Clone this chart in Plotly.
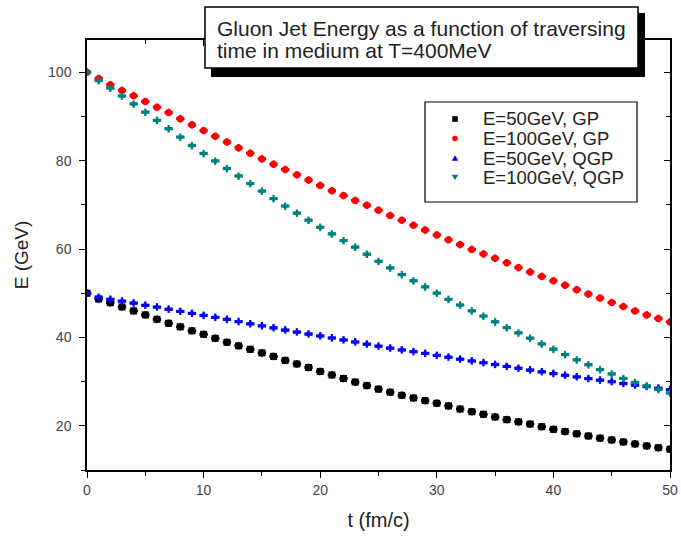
import plotly.graph_objects as go

t = list(range(51))

gp_50 = [50.0, 48.7, 47.85, 46.9, 46.0, 45.1, 44.1, 43.2, 42.4, 41.5, 40.7, 39.8, 38.9, 38.1, 37.3,
         36.5, 35.7, 34.8, 34.0, 33.2, 32.3, 31.5, 30.7, 29.9, 29.1, 28.3, 27.6, 26.9, 26.3, 25.7,
         25.1, 24.5, 23.8, 23.2, 22.6, 22.0, 21.4, 20.9, 20.4, 19.8, 19.2, 18.7, 18.2, 17.7, 17.2,
         16.8, 16.35, 15.9, 15.45, 15.05, 14.7]
gp_100 = [100.0, 98.6, 97.2, 95.9, 94.7, 93.4, 92.1, 90.9, 89.5, 88.1, 86.8, 85.5, 84.2, 82.9, 81.7,
          80.4, 79.2, 78.0, 76.8, 75.6, 74.4, 73.2, 72.1, 71.0, 69.9, 68.8, 67.6, 66.5, 65.4, 64.3,
          63.2, 62.1, 61.0, 59.9, 58.9, 57.9, 56.9, 55.8, 54.8, 53.8, 52.8, 51.8, 50.8, 49.8, 48.9,
          47.9, 47.0, 46.0, 45.1, 44.3, 43.5]
qgp_50 = [50.0, 49.1, 48.65, 48.25, 47.8, 47.3, 46.9, 46.4, 45.9, 45.45, 45.0, 44.55, 44.1, 43.6, 43.1,
          42.65, 42.2, 41.7, 41.25, 40.8, 40.35, 39.9, 39.45, 39.0, 38.5, 38.05, 37.6, 37.2, 36.8, 36.4,
          35.95, 35.55, 35.1, 34.7, 34.3, 33.9, 33.45, 33.05, 32.65, 32.25, 31.85, 31.45, 31.1, 30.7, 30.35,
          30.0, 29.6, 29.25, 28.9, 28.55, 28.2]
qgp_100 = [100.0, 98.1, 96.4, 94.6, 92.8, 90.95, 89.1, 87.2, 85.3, 83.4, 81.6, 79.9, 78.2, 76.5, 74.8,
           73.1, 71.4, 69.7, 68.1, 66.5, 64.9, 63.4, 61.9, 60.4, 58.8, 57.2, 55.7, 54.2, 52.8, 51.4,
           50.0, 48.6, 47.3, 46.0, 44.8, 43.5, 42.2, 41.0, 39.8, 38.5, 37.3, 36.1, 34.9, 33.8, 32.7,
           31.7, 30.7, 29.8, 29.0, 28.2, 27.4]

series_names = ["E=50GeV, GP", "E=100GeV, GP", "E=50GeV, QGP", "E=100GeV, QGP"]
series_values = [gp_50, gp_100, qgp_50, qgp_100]
colors = ["#000000", "#ff0000", "#0000ff", "#008080"]
symbols = ["square", "circle", "triangle-up", "triangle-down"]

x_ticks = [0, 10, 20, 30, 40, 50]
y_ticks = [20, 40, 60, 80, 100]
title_lines = ["Gluon Jet Energy as a function of traversing", "time in medium at T=400MeV"]

fig = go.Figure()
for name, vals, c, s in zip(series_names, series_values, colors, symbols):
    fig.add_trace(go.Scatter(
        x=t, y=vals, mode="markers", name=name, showlegend=False,
        marker=dict(symbol=s, size=7, color=c, line=dict(width=0)),
        error_y=dict(type="constant", value=0.85, color=c, thickness=2.2, width=0),
        error_x=dict(type="constant", value=0.36, color=c, thickness=3, width=0),
    ))

# dummy trace for mirrored (inside-tick) axes
fig.add_trace(go.Scatter(x=[], y=[], xaxis="x2", yaxis="y2", showlegend=False, hoverinfo="skip"))

L, R, T, B = 87, 11, 40, 69
W, H = 681, 539
pw, ph = W - L - R, H - T - B

def px(x):
    return (x - L) / pw

def py(y):
    return (H - B - y) / ph

fontfam = "Liberation Sans, Arial, sans-serif"
axis_common = dict(showline=True, linecolor="black", linewidth=1.5, showgrid=False, zeroline=False,
                   tickcolor="black", tickwidth=1.2, automargin=False)

fig.update_layout(
    width=W, height=H,
    margin=dict(l=L, r=R, t=T, b=B, autoexpand=False),
    paper_bgcolor="white", plot_bgcolor="white",
    font=dict(family=fontfam, color="#333333"),
    showlegend=False,
    xaxis=dict(range=[0, 50], tickvals=x_ticks, ticks="outside", ticklen=6,
               minor=dict(dtick=5, ticks="outside", ticklen=4, tickcolor="black"),
               tickfont=dict(size=14, color="#444444"),
               title=dict(text="t (fm/c)", font=dict(size=20, color="#222222"), standoff=16),
               **axis_common),
    yaxis=dict(range=[10, 107.3], tickvals=y_ticks, ticks="outside", ticklen=6,
               minor=dict(dtick=10, tick0=0, ticks="outside", ticklen=4, tickcolor="black"),
               tickfont=dict(size=14, color="#444444"), ticklabelstandoff=5,
               title=dict(text="E (GeV)", font=dict(size=19, color="#222222"), standoff=14),
               **axis_common),
    xaxis2=dict(overlaying="x", side="top", range=[0, 50], tickvals=x_ticks, ticks="inside", ticklen=6,
                minor=dict(dtick=5, ticks="inside", ticklen=4, tickcolor="black"),
                showticklabels=False, anchor="y2", **axis_common),
    yaxis2=dict(overlaying="y", side="right", range=[10, 107.3], tickvals=y_ticks, ticks="inside", ticklen=6,
                minor=dict(dtick=10, tick0=0, ticks="inside", ticklen=4, tickcolor="black"),
                showticklabels=False, anchor="x2", **axis_common),
)

# title box with drop shadow
fig.add_shape(type="rect", xref="paper", yref="paper",
              x0=px(211), x1=px(645), y0=py(77), y1=py(13),
              fillcolor="black", line=dict(width=0))
fig.add_shape(type="rect", xref="paper", yref="paper",
              x0=px(205), x1=px(638), y0=py(68), y1=py(7),
              fillcolor="white", line=dict(color="black", width=1.5))
for i, line in enumerate(title_lines):
    fig.add_annotation(text=line, xref="paper", yref="paper", x=px(215), y=py(28 + 22 * i),
                       xanchor="left", yanchor="middle", showarrow=False,
                       font=dict(size=21, color="#222222", family=fontfam))

# legend box (drawn as decorations, entries follow the series lists)
fig.add_shape(type="rect", xref="paper", yref="paper",
              x0=px(425), x1=px(637), y0=py(202), y1=py(102),
              fillcolor="white", line=dict(color="black", width=1.2))
sym_x, text_x, row0, row_gap, r = 455, 481, 119, 19.5, 2.8
for i, (name, c, s) in enumerate(zip(series_names, colors, symbols)):
    cy = row0 + row_gap * i
    if s == "square":
        fig.add_shape(type="rect", xref="paper", yref="paper",
                      x0=px(sym_x - r), x1=px(sym_x + r), y0=py(cy + r), y1=py(cy - r),
                      fillcolor=c, line=dict(width=0))
    elif s == "circle":
        fig.add_shape(type="circle", xref="paper", yref="paper",
                      x0=px(sym_x - r), x1=px(sym_x + r), y0=py(cy + r), y1=py(cy - r),
                      fillcolor=c, line=dict(width=0))
    else:
        d = -1 if s == "triangle-up" else 1
        pts = [(sym_x - r - 0.5, cy - d * r), (sym_x + r + 0.5, cy - d * r), (sym_x, cy + d * r)]
        path = "M " + " L ".join(f"{px(a):.5f},{py(b):.5f}" for a, b in pts) + " Z"
        fig.add_shape(type="path", xref="paper", yref="paper", path=path,
                      fillcolor=c, line=dict(width=0))
    fig.add_annotation(text=name, xref="paper", yref="paper", x=px(text_x), y=py(cy),
                       xanchor="left", yanchor="middle", showarrow=False,
                       font=dict(size=18.5, color="#222222", family=fontfam))

fig.write_html("out.html")
